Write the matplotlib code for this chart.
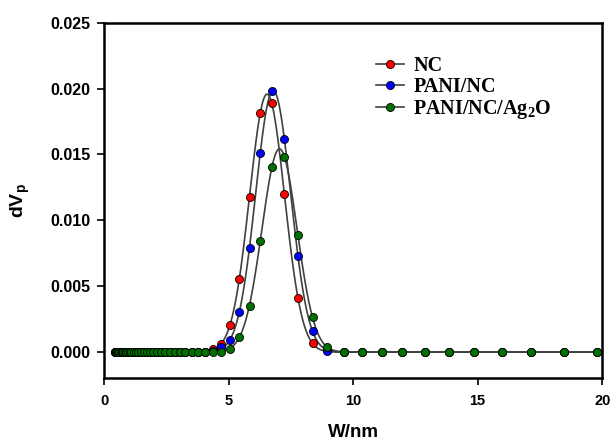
import numpy as np
import matplotlib
matplotlib.use('Agg')
from matplotlib import pyplot as plt
from matplotlib.lines import Line2D

plt.rcParams['font.family'] = ['Liberation Sans', 'DejaVu Sans']
plt.rcParams['mathtext.fontset'] = 'custom'
plt.rcParams['mathtext.rm'] = 'Liberation Serif:bold'
plt.rcParams['mathtext.sf'] = 'Liberation Sans:bold'

# pore width (nm)
width = [0.43, 0.47, 0.50, 0.54, 0.58, 0.62, 0.67, 0.72, 0.77, 0.83, 0.89, 0.96,
         1.03, 1.10, 1.19, 1.28, 1.37, 1.48, 1.59, 1.71, 1.83, 1.97, 2.12, 2.28,
         2.45, 2.63, 2.83, 3.04, 3.27, 3.52, 3.78, 4.07, 4.37, 4.70, 5.06, 5.43,
         5.84, 6.27, 6.73, 7.24, 7.78, 8.38, 8.97, 9.65, 10.37, 11.15, 11.98,
         12.88, 13.83, 14.86, 15.96, 17.15, 18.45, 19.81]

n_flat = 32  # points on the baseline before the peak region
nc = [0.0] * n_flat + [0.00023, 0.00063, 0.00202, 0.00556, 0.01180, 0.01817,
                       0.01889, 0.01198, 0.00414, 0.00068, 0.00017] + [0.0] * 11
pani_nc = [0.0] * n_flat + [0.00005, 0.00035, 0.00093, 0.00303, 0.00789, 0.01512,
                            0.01980, 0.01616, 0.00733, 0.00164, 0.00010] + [0.0] * 11
pani_nc_ag = [0.0] * n_flat + [0.0, 0.00002, 0.00027, 0.00111, 0.00351, 0.00842,
                               0.01403, 0.01479, 0.00892, 0.00265, 0.00035] + [0.0] * 11

labels = ['NC', 'PANI/NC', r'PANI/NC/Ag$_2$O']
colors = ['#ff0000', '#0000ff', '#007000']
series = [nc, pani_nc, pani_nc_ag]

fig = plt.figure(figsize=(6.12, 4.45), dpi=100)
ax = fig.add_axes([0.170, 0.151, 0.814, 0.798])

x = np.array(width)
xs = np.linspace(x.min(), x.max(), 1500)
line_col = '#404040'
handles = []
for i, (y, c, lab) in enumerate(zip(series, colors, labels)):
    y = np.array(y)
    m = y > 1.5e-4
    # gaussian fit of the peak points (log-parabola, weighted)
    p = np.polyfit(x[m], np.log(y[m]), 2, w=y[m])
    ax.plot(xs, np.exp(np.polyval(p, xs)), color=line_col, lw=1.2, zorder=2)
    ax.plot(x, y, linestyle='none', marker='o', ms=5.8, mfc=c, mec='black',
            mew=0.6, zorder=3 + i)
    handles.append(Line2D([], [], color=line_col, lw=1.2, marker='o', ms=5.8,
                          mfc=c, mec='black', mew=0.6))

ax.set_xlim(0, 20)
ax.set_ylim(-0.00195, 0.025)
ax.set_xticks(np.arange(0, 21, 5))
ax.set_yticks(np.arange(0, 0.0251, 0.005))
ax.set_yticklabels(['%.3f' % v for v in np.arange(0, 0.0251, 0.005)])
for s in ax.spines.values():
    s.set_linewidth(1.8)
ax.tick_params(axis='both', direction='out', length=5, width=1.2, pad=5)
ax.tick_params(axis='x', labelsize=10.5, pad=7)
ax.tick_params(axis='y', labelsize=11.5)
for t in ax.get_xticklabels() + ax.get_yticklabels():
    t.set_fontweight('bold')
ax.set_xlabel('W/nm', fontsize=13.5, fontweight='bold', labelpad=11)
ax.set_ylabel(r'dV$_\mathsf{p}$', fontsize=14, fontweight='bold', labelpad=13)

leg = ax.legend(handles, labels, loc='upper left', bbox_to_anchor=(0.546, 0.905),
                frameon=False, numpoints=1, handlelength=1.4, handletextpad=0.45,
                labelspacing=0.05, borderpad=0, borderaxespad=0,
                prop={'family': 'Liberation Serif', 'weight': 'bold', 'size': 14.5})

plt.savefig('out.png', dpi=100, facecolor='white')
